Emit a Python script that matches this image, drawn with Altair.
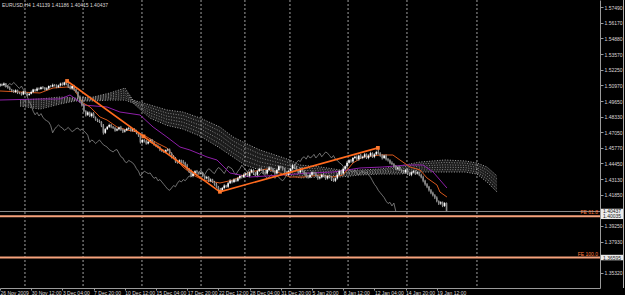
import altair as alt
import pandas as pd

# ---------------- data ----------------
first_open = 1.5095
closes = [
    1.5105, 1.5098, 1.5110, 1.5090, 1.5075, 1.5060, 1.5050, 1.5040, 1.5055, 1.5035,
    1.5030, 1.5020, 1.5045, 1.5030, 1.5015, 1.5025, 1.5040, 1.5060, 1.5050, 1.5070,
    1.5065, 1.5080, 1.5075, 1.5060, 1.5070, 1.5090, 1.5085, 1.5100, 1.5095, 1.5080,
    1.5095, 1.5110, 1.5100, 1.5120, 1.5105,
    1.5085, 1.5070, 1.5090, 1.5060, 1.5040, 1.5000, 1.4960, 1.4930, 1.4880, 1.4850, 1.4870,
    1.4840, 1.4860, 1.4830, 1.4810, 1.4800, 1.4790, 1.4760, 1.4700, 1.4730, 1.4750,
    1.4765, 1.4750, 1.4740, 1.4720, 1.4730, 1.4745, 1.4725, 1.4710, 1.4720, 1.4735,
    1.4740, 1.4720, 1.4730, 1.4715, 1.4700, 1.4680,
    1.4620, 1.4640, 1.4630, 1.4610, 1.4625, 1.4640, 1.4620, 1.4600, 1.4590, 1.4580, 1.4560,
    1.4550, 1.4540, 1.4555, 1.4560, 1.4530, 1.4500, 1.4490, 1.4460,
    1.4450, 1.4470, 1.4460, 1.4450, 1.4430, 1.4400, 1.4380, 1.4340, 1.4360, 1.4380, 1.4370, 1.4360, 1.4365,
    1.4340, 1.4320, 1.4330, 1.4300, 1.4310, 1.4290, 1.4270, 1.4250, 1.4230, 1.4220,
    1.4240, 1.4260, 1.4250, 1.4280, 1.4300, 1.4290, 1.4310, 1.4300, 1.4320, 1.4340, 1.4330, 1.4350,
    1.4360, 1.4340, 1.4370, 1.4390, 1.4360, 1.4350, 1.4380, 1.4400, 1.4390, 1.4370, 1.4360, 1.4390,
    1.4410, 1.4400, 1.4380, 1.4360, 1.4390, 1.4420, 1.4410, 1.4400, 1.4370, 1.4350, 1.4380, 1.4400,
    1.4430, 1.4410, 1.4390, 1.4370, 1.4400,
    1.4380, 1.4360, 1.4340, 1.4330, 1.4350, 1.4370, 1.4360, 1.4340, 1.4320, 1.4330, 1.4350, 1.4340, 1.4320, 1.4340,
    1.4330, 1.4310, 1.4300, 1.4320, 1.4350, 1.4380, 1.4360, 1.4400, 1.4420, 1.4450,
    1.4470, 1.4460, 1.4490, 1.4500, 1.4480, 1.4510, 1.4490,
    1.4500, 1.4520, 1.4490, 1.4510, 1.4530, 1.4500, 1.4520, 1.4540, 1.4530, 1.4510, 1.4490, 1.4510, 1.4480,
    1.4470, 1.4450, 1.4440, 1.4420, 1.4400, 1.4410, 1.4390,
    1.4380, 1.4370, 1.4390, 1.4360, 1.4350, 1.4370, 1.4380, 1.4360, 1.4370, 1.4350,
    1.4330, 1.4300, 1.4270, 1.4250, 1.4220, 1.4200, 1.4180,
    1.4160, 1.4130, 1.4110, 1.4120, 1.4090, 1.41139, 1.40437,
]
# upper / lower wick lengths in pips
up_wick = [
    8, 6, 10, 5, 7, 12, 6, 9, 8, 5, 7, 10, 6, 8, 5, 9, 12, 7, 6, 10,
    8, 6, 9, 7, 11, 5, 8, 10, 6, 9, 7, 8, 10, 6, 15, 9, 12, 7, 10, 8,
    6, 11, 9, 14, 8, 10, 7, 9, 12, 6, 8, 10, 7, 13, 9, 6, 11, 8, 7, 10,
    9, 6, 12, 8, 10, 7, 9, 11, 6, 8, 10, 7, 12, 9, 8, 11, 6, 10, 8, 7,
    9, 12, 8, 6, 10, 7, 11, 9, 8, 13, 7, 10, 9, 6, 12, 8, 11, 7, 14, 9,
    8, 10, 6, 12, 9, 7, 11, 8, 10, 6, 9, 12, 7, 10, 8, 11, 6, 9, 13, 7,
    10, 8, 12, 6, 9, 11, 7, 14, 8, 10, 6, 12, 9, 8, 11, 7, 10, 9, 13, 8,
    7, 11, 9, 10, 6, 12, 8, 9, 11, 7, 10, 8, 12, 6, 9, 11, 7, 10, 8, 13,
    9, 6, 11, 8, 10, 7, 12, 9, 6, 10, 8, 11, 7, 13, 9, 10, 12, 8, 14, 9,
    11, 8, 10, 12, 7, 13, 9, 11, 8, 10, 12, 7, 9, 10, 34, 8, 11, 7, 10, 9,
    8, 12, 7, 10, 9, 11, 6, 10, 8, 12, 9, 7, 11, 8, 10, 6, 9, 12, 8, 10,
    7, 11, 9, 8, 10, 6, 9, 7, 8, 4.7,
]
dn_wick = [
    7, 9, 5, 10, 8, 6, 11, 7, 9, 12, 8, 10, 6, 9, 12, 7, 5, 10, 8, 6,
    9, 7, 11, 8, 6, 10, 7, 5, 9, 8, 6, 10, 8, 7, 9, 11, 8, 12, 10, 7,
    13, 9, 11, 8, 14, 10, 9, 12, 7, 10, 11, 8, 13, 15, 9, 7, 10, 12, 8, 11,
    7, 10, 9, 12, 8, 6, 11, 9, 10, 8, 12, 14, 10, 8, 11, 9, 7, 10, 12, 8,
    10, 9, 13, 11, 8, 10, 9, 12, 14, 10, 11, 8, 10, 12, 9, 13, 10, 15, 8, 11,
    9, 12, 10, 8, 11, 13, 9, 10, 12, 8, 11, 9, 10, 12, 8, 11, 9, 10, 7, 12,
    9, 11, 8, 10, 12, 7, 10, 9, 11, 8, 12, 9, 10, 8, 11, 13, 9, 10, 8, 12,
    10, 11, 9, 13, 8, 10, 12, 9, 11, 10, 8, 12, 9, 11, 10, 8, 13, 10, 12, 9,
    11, 10, 8, 12, 9, 10, 11, 13, 9, 10, 12, 9, 11, 10, 8, 12, 9, 11, 10, 8,
    10, 12, 9, 11, 13, 8, 10, 12, 9, 11, 10, 9, 12, 8, 11, 10, 13, 9, 11, 10,
    12, 9, 11, 10, 13, 8, 12, 10, 9, 11, 10, 12, 9, 11, 8, 12, 10, 13, 11, 12,
    10, 12, 11, 13, 10, 12, 11, 10, 9, 2.2,
]

# orange (Tenkan) line vertices: bar index, price
tenkan_idx = [0, 10.3, 20.5, 27.2, 34.4, 37.4, 42.6, 46.2, 51.3, 54.9, 60, 65.1, 70.3, 75.4, 80.5,
              85.6, 90.8, 93.8, 99, 104.1, 112.8, 119.5, 128.2, 136.9, 142.1, 148.7, 155.4, 164.1,
              170.8, 175.9, 181, 186.2, 194.9, 201.5, 205.1, 210.3, 215.4, 219, 224.1, 225.6, 229.2]
tenkan_val = [1.50485, 1.50401, 1.50318, 1.50735, 1.50818, 1.50735, 1.49484, 1.49150, 1.48316, 1.48066,
              1.47482, 1.47232, 1.47065, 1.46648, 1.46148, 1.45731, 1.44730, 1.44146, 1.43479, 1.43062,
              1.42812, 1.43062, 1.43729, 1.43979, 1.43729, 1.43312, 1.43312, 1.43479, 1.43312, 1.43479,
              1.44480, 1.44980, 1.45147, 1.45147, 1.44730, 1.44146, 1.43896, 1.43229, 1.42645, 1.42061,
              1.41644]
# purple (Kijun) line vertices
kijun_idx = [0, 20.5, 30.8, 35.9, 39.5, 42.6, 54.9, 61.5, 71.8, 78.5, 85.6, 92.3, 97.4, 106.2, 111.3,
             117.9, 128.2, 145.1, 159, 170.8, 177.9, 184.6, 196.4, 208.7, 216.9, 222.1, 229.2]
kijun_val = [1.49734, 1.49817, 1.49817, 1.50151, 1.49734, 1.49317, 1.49150, 1.48733, 1.48484, 1.47482,
             1.46648, 1.45814, 1.45564, 1.44980, 1.44730, 1.43646, 1.43312, 1.43479, 1.43646, 1.43729,
             1.43896, 1.44063, 1.44146, 1.44313, 1.44313, 1.43729, 1.42395]
# dotted cloud: bar index, upper and lower edge
cloud_idx = [10.3, 20.5, 30.8, 38.5, 47.7, 56.4, 64.1, 68.2, 76.9, 85.6, 93.8, 102.6, 112.8, 119.5,
             125.6, 133.3, 141.0, 148.7, 153.8, 164.1, 174.4, 184.6, 194.9, 205.1, 215.4, 228.2,
             238.5, 244.6, 249.7, 254.9]
cloud_top = [1.4973, 1.4982, 1.4998, 1.4990, 1.4998, 1.5032, 1.5073, 1.4973, 1.4932, 1.4890, 1.4873,
             1.4823, 1.4748, 1.4665, 1.4615, 1.4556, 1.4515, 1.4473, 1.4431, 1.4415, 1.4390, 1.4390,
             1.4398, 1.4423, 1.4456, 1.4473, 1.4465, 1.4448, 1.4415, 1.4340]
cloud_bot = [1.4923, 1.4898, 1.4940, 1.4965, 1.4965, 1.4973, 1.4973, 1.4948, 1.4823, 1.4762, 1.4732,
             1.4673, 1.4573, 1.4498, 1.4431, 1.4390, 1.4373, 1.4348, 1.4323, 1.4331, 1.4331, 1.4348,
             1.4356, 1.4356, 1.4373, 1.4373, 1.4373, 1.4356, 1.4290, 1.4206]
chikou_shift = 26

# Fibonacci expansion anchors
zz_idx = [34.4, 112.8, 193.8]
zz_val = [1.5132, 1.4208, 1.4574]
anchor_idx = [34.4, 73.6, 112.8, 193.8]
anchor_val = [1.5132, 1.4670, 1.4208, 1.4574]
fe_levels = [1.40035, 1.36595]
fe_names = ["FE 61.8", "FE 100.0"]
bid_price = 1.40437

# period separators (bar index)
sep_idx = [12.8, 42.6, 72.8, 103.1, 125.6, 148.7, 178.5, 208.7, 244.6]

time_ticks = [0, 16, 32, 48, 64, 80, 96, 112, 128, 144, 160, 176, 192, 208, 224]
time_labels = ["26 Nov 2009", "30 Nov 12:00", "3 Dec 04:00", "7 Dec 20:00", "10 Dec 12:00",
               "15 Dec 04:00", "17 Dec 20:00", "22 Dec 12:00", "28 Dec 04:00", "31 Dec 20:00",
               "5 Jan 20:00", "8 Jan 12:00", "12 Jan 04:00", "14 Jan 20:00", "19 Jan 12:00"]
price_ticks = [1.57490, 1.56170, 1.54880, 1.53570, 1.52250, 1.50970, 1.49650, 1.48330, 1.47050,
               1.45770, 1.44450, 1.43130, 1.41850, 1.39250, 1.37930, 1.35320, 1.34050]
title_text = "EURUSD,H4  1.41139 1.41186 1.40415 1.40437"

# ---------------- tables ----------------
n = len(closes)
opens = [first_open] + closes[:-1]
highs = [max(o, c) + u / 10000 for o, c, u in zip(opens, closes, up_wick)]
lows = [min(o, c) - d / 10000 for o, c, d in zip(opens, closes, dn_wick)]
candles = pd.DataFrame({
    "i": list(range(n)), "open": opens, "close": closes, "high": highs, "low": lows,
    "dir": ["up" if c >= o else "down" for o, c in zip(opens, closes)],
})
chikou = pd.DataFrame({"i": [k - chikou_shift for k in range(chikou_shift, n)],
                       "v": closes[chikou_shift:]})
tenkan = pd.DataFrame({"i": tenkan_idx, "v": tenkan_val})
kijun = pd.DataFrame({"i": kijun_idx, "v": kijun_val})
cloud = pd.DataFrame({"i": cloud_idx, "top": cloud_top, "bot": cloud_bot})
zz = pd.DataFrame({"i": zz_idx, "v": zz_val})
anchors = pd.DataFrame({"i": anchor_idx, "v": anchor_val})
fe = pd.DataFrame({"v": fe_levels, "name": fe_names,
                   "t": [f"{v:.5f}" for v in fe_levels]})
bid = pd.DataFrame({"v": [bid_price], "t": [f"{bid_price:.5f}"]})
seps = pd.DataFrame({"i": sep_idx})

FONT = "Liberation Sans"
PLOT_H = 288
xs = alt.Scale(domain=[0, 307.7], nice=False, zero=False)
ys = alt.Scale(domain=[1.34055, 1.58074], nice=False, zero=False)
label_js = "[" + ",".join(f"'{t}'" for t in time_labels) + "][round(datum.value/16)]"
xaxis = alt.Axis(values=time_ticks, labelExpr=label_js, title=None, grid=False,
                 labelAlign="left", labelBaseline="top", labelFontSize=5, labelFont=FONT,
                 labelColor="#dcd6d6", labelPadding=0, tickSize=2, tickColor="#9a9a9a",
                 domainColor="#9a9a9a", labelOverlap=False, labelFlush=False, labelBound=False)
yaxis = alt.Axis(values=price_ticks, format=".5f", orient="right", title=None, grid=False,
                 labelFontSize=5, labelFont=FONT, labelColor="#dcd6d6", labelPadding=1,
                 tickSize=3, tickColor="#9a9a9a", domainColor="#9a9a9a",
                 labelOverlap=False, labelFlush=False, labelBound=False)


def X(f):
    return alt.X(f, type="quantitative", scale=xs, axis=xaxis)


def Y(f):
    return alt.Y(f, type="quantitative", scale=ys, axis=yaxis)


sep_layer = alt.Chart(seps).mark_rule(color="#a0a0a0", strokeDash=[2, 2], strokeWidth=1).encode(
    x=X("i"), y=alt.value(0), y2=alt.value(PLOT_H - 2))

# cloud: faint fill plus a dotted hatch of rows between its edges
cloud_fill = alt.Chart(cloud).mark_area(color="#7a7a7a", opacity=0.22).encode(
    x=X("i"), y=Y("top"), y2="bot")
hatch_layers = []
for k, frac in enumerate([0.0, 0.2, 0.4, 0.6, 0.8, 1.0]):
    hatch_layers.append(
        alt.Chart(cloud).transform_calculate(
            h=f"datum.top + ({frac}) * (datum.bot - datum.top)"
        ).mark_line(color="#c4c4c4", strokeDash=[1, 1.6], strokeWidth=0.9,
                    opacity=0.95 if frac in (0.0, 1.0) else 0.7).encode(x=X("i"), y=Y("h:Q"))
    )

chikou_l = alt.Chart(chikou).mark_line(color="#8c8c8c", strokeWidth=0.8).encode(x=X("i"), y=Y("v"))
kijun_l = alt.Chart(kijun).mark_line(color="#8e1fa8", strokeWidth=1).encode(x=X("i"), y=Y("v"))
tenkan_l = alt.Chart(tenkan).mark_line(color="#d8581c", strokeWidth=1).encode(x=X("i"), y=Y("v"))

wicks = alt.Chart(candles).mark_rule(color="#a8a8a8", strokeWidth=1).encode(
    x=X("i"), y=Y("low"), y2="high")
bodies = alt.Chart(candles).mark_rule(strokeWidth=1.6).encode(
    x=X("i"), y=Y("open"), y2="close",
    color=alt.Color("dir:N", scale=alt.Scale(domain=["up", "down"], range=["#ffffff", "#8a8a8a"]),
                    legend=None))

bid_line = alt.Chart(bid).mark_rule(color="#8c8c8c", strokeWidth=1).encode(y=Y("v"))
fe_lines = alt.Chart(fe).mark_rule(color="#f6a27c", strokeWidth=2).encode(y=Y("v"))
fe_text = alt.Chart(fe).mark_text(align="right", baseline="bottom", dy=-1, fontSize=5, font=FONT,
                                  color="#ff7a3c").encode(x=alt.value(598), y=Y("v"), text="name:N")

zz_line = alt.Chart(zz).mark_line(color="#ff6a1e", strokeWidth=1.6).encode(x=X("i"), y=Y("v"))
zz_pts = alt.Chart(anchors).mark_square(color="#ff7a30", size=14, opacity=1).encode(x=X("i"), y=Y("v"))

boxes_df = pd.concat([bid, fe[["v", "t"]]], ignore_index=True)
boxes = alt.Chart(boxes_df).mark_rule(color="#ececec", strokeWidth=5.5).encode(
    x=alt.value(601), x2=alt.value(623), y=Y("v"))
box_text = alt.Chart(boxes_df).mark_text(align="center", baseline="middle", fontSize=5, font=FONT,
                                         color="#202020").encode(x=alt.value(612), y=Y("v"), text="t:N")

edge = alt.Chart(bid).mark_rule(color="#b0b0b0", strokeWidth=1).encode(
    x=alt.value(623.5), y=alt.value(0), y2=alt.value(PLOT_H))

title = alt.Chart(bid).mark_text(align="left", baseline="middle", fontSize=5, font=FONT,
                                 color="#dcd6d6").encode(x=alt.value(2), y=alt.value(5),
                                                         text=alt.value(title_text))

chart = alt.layer(
    sep_layer, cloud_fill, *hatch_layers, chikou_l, kijun_l, tenkan_l,
    wicks, bodies, bid_line, fe_lines, fe_text, zz_line, zz_pts, boxes, box_text, edge, title
).properties(
    width=600, height=PLOT_H, autosize="none",
    padding={"left": 0, "top": 0, "right": 25, "bottom": 295 - PLOT_H},
    background="#000000",
).configure_view(strokeWidth=0)

chart.save("out.html", embed_options={"renderer": "svg", "actions": False})
